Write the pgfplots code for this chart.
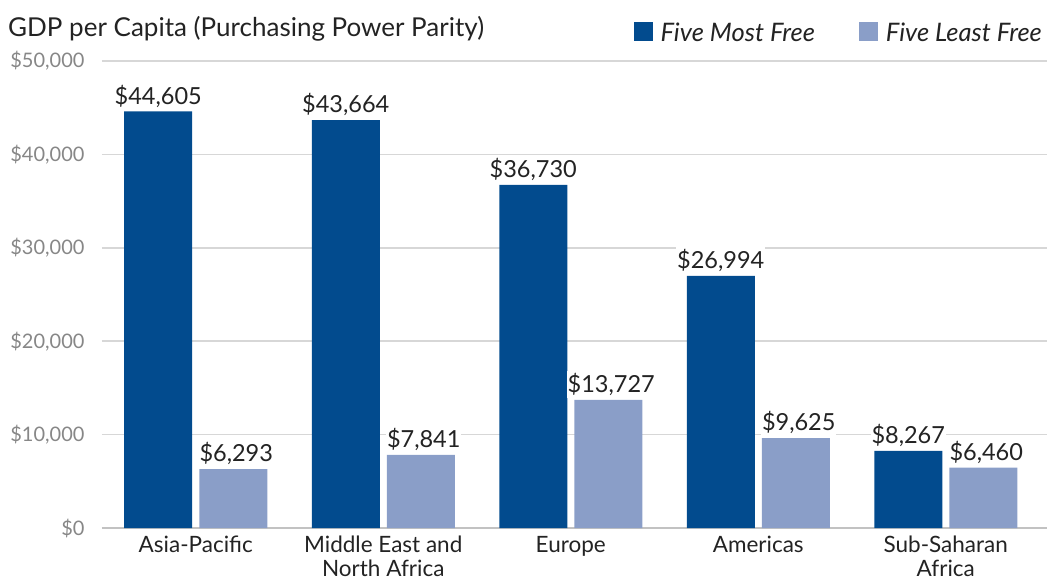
\documentclass[border=0pt]{standalone}
\usepackage{pgfplots}
\pgfplotsset{compat=1.18}
\usepackage{fontspec}
\setmainfont{Lato}
\definecolor{darkb}{RGB}{2,75,142}
\definecolor{lightb}{RGB}{138,158,200}
\definecolor{gridc}{RGB}{215,215,215}
\definecolor{tickc}{RGB}{135,135,135}
\definecolor{txt}{RGB}{35,35,35}
\begin{document}
\begin{tikzpicture}
\useasboundingbox (-102pt,-56pt) rectangle ++(1047pt,584pt);
\begin{axis}[
  at={(0,0)}, anchor=south west,
  scale only axis,
  width=945pt, height=467pt,
  xmin=-0.5, xmax=4.54,
  ymin=0, ymax=50000,
  ybar=7pt, bar width=68pt,
  axis line style={draw=none},
  xtick={0,1,2,3,4},
  xticklabels={Asia-Pacific, {Middle East and\\North Africa}, Europe, Americas, {Sub-Saharan\\Africa}},
  xticklabel style={align=center, font=\fontsize{22.5}{24}\selectfont, text=txt, yshift=-8pt, inner ysep=0pt},
  x tick label style={anchor=north},
  ytick={0,10000,20000,30000,40000,50000},
  yticklabel={\$\pgfmathprintnumber{\tick}},
  /pgf/number format/.cd, fixed, 1000 sep={,}, assume math mode=true,
  /pgfplots/.cd,
  yticklabel style={font=\fontsize{20}{22}\selectfont, text=tickc, xshift=-14pt},
  ymajorgrids, grid style={gridc, line width=1.5pt},
  major tick length=0pt,
  tick style={draw=none},
  scaled y ticks=false,
  extra y ticks={0}, extra y tick labels={},
  extra y tick style={grid style={gridc!90!black, line width=2pt}},
  nodes near coords={\$\pgfmathprintnumber{\pgfplotspointmeta}},
  nodes near coords style={font=\fontsize{23.5}{24}\selectfont, text=txt, fill=white, inner xsep=1pt, inner ysep=2pt, anchor=south, yshift=2pt},
  legend style={at={(1,1)}, anchor=south east, draw=none, legend columns=2, font=\fontsize{25.5}{26}\selectfont\itshape, text=txt, yshift=14pt, xshift=0pt,
    /tikz/every odd column/.append style={column sep=6pt},
    /tikz/every even column/.append style={column sep=42pt}},
  legend image code/.code={\fill[#1] (0pt,-8pt) rectangle (19pt,11pt);},
  clip=false,
]
\addplot[fill=darkb, draw=none] coordinates {(0,44605) (1,43664) (2,36730) (3,26994) (4,8267)};
\addplot[fill=lightb, draw=none, nodes near coords style={xshift=3pt}] coordinates {(0,6293) (1,7841) (2,13727) (3,9625) (4,6460)};
\legend{Five Most Free, Five Least Free}
\node[anchor=base west, font=\fontsize{26}{28}\selectfont, text=txt, inner sep=0pt] at ([xshift=-94pt,yshift=25pt]rel axis cs:0,1) {GDP per Capita (Purchasing Power Parity)};
\end{axis}
\end{tikzpicture}
\end{document}
